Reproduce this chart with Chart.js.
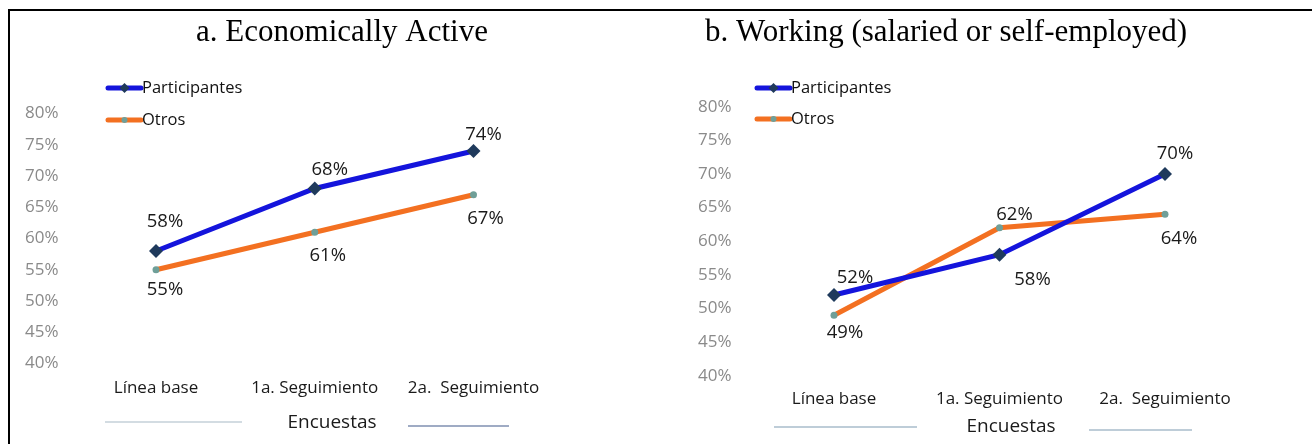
<!DOCTYPE html>
<html>
<head>
<meta charset="utf-8">
<title>Encuestas</title>
<script src="https://cdn.jsdelivr.net/npm/chart.js@4.4.1/dist/chart.umd.min.js"></script>
<style>
html,body{margin:0;padding:0;background:#fff;}
#page{position:relative;width:1312px;height:444px;overflow:hidden;background:#fff;}
#frame{position:absolute;left:8px;top:9px;right:0;bottom:0;border-top:2px solid #000;border-left:2px solid #000;}
canvas{position:absolute;top:0;}
#chartA{left:0;}
#chartB{left:656px;}
</style>
</head>
<body>
<div id="page">
<canvas id="chartA" width="656" height="444"></canvas>
<canvas id="chartB" width="656" height="444"></canvas>
<div id="frame"></div>
</div>
<script>
// ===========================================
// DATA
// ===========================================

const surveys = ["Línea base", "1a. Seguimiento", "2a.  Seguimiento"];

// a. Economically Active
const activeParticipantes = [58, 68, 74];
const activeOtros = [55, 61, 67];

// b. Working (salaried or self-employed)
const workingParticipantes = [52, 58, 70];
const workingOtros = [49, 62, 64];

const seriesNames = ["Participantes", "Otros"];

const Y_MIN = 40;
const Y_MAX = 80;
const Y_STEP = 5;

// ===========================================
// STYLE
// ===========================================

const SANS = '"Open Sans", "Noto Sans", sans-serif';
const SERIF = '"Liberation Serif", "DejaVu Serif", serif';

const BLUE = "#1414dc";
const ORANGE = "#f37021";
const NAVY = "#1f3a5c";
const TEAL = "#6f9f98";

// ===========================================
// TITLE, LEGEND, VALUE LABELS, AXIS TITLE
// ===========================================

const panelDecor = {
    id: "panelDecor",
    afterDatasetsDraw(chart, args, opts) {
        const ctx = chart.ctx;
        ctx.save();

        // Title
        ctx.fillStyle = "#000";
        ctx.font = "31px " + SERIF;
        ctx.textAlign = "center";
        ctx.textBaseline = "middle";
        ctx.fillText(opts.title, opts.titleX, opts.titleY);

        // Legend: line with marker in the middle
        chart.data.datasets.forEach((ds, i) => {
            const y = opts.legendY[i];
            const x0 = opts.legendX;
            const x1 = x0 + 33;

            ctx.strokeStyle = ds.borderColor;
            ctx.lineWidth = 5;
            ctx.lineCap = "round";
            ctx.beginPath();
            ctx.moveTo(x0, y);
            ctx.lineTo(x1, y);
            ctx.stroke();

            const cx = (x0 + x1) / 2;
            ctx.fillStyle = ds.pointBackgroundColor;
            ctx.beginPath();
            if (ds.pointStyle === "rectRot") {
                ctx.moveTo(cx - 5, y);
                ctx.lineTo(cx, y - 5);
                ctx.lineTo(cx + 5, y);
                ctx.lineTo(cx, y + 5);
                ctx.closePath();
            } else {
                ctx.arc(cx, y, 3, 0, Math.PI * 2);
            }
            ctx.fill();

            ctx.fillStyle = "#111";
            ctx.font = "16.5px " + SANS;
            ctx.textAlign = "left";
            ctx.fillText(ds.label, x1 + 1, y);
        });

        // Value labels next to each point
        ctx.font = "18.5px " + SANS;
        ctx.fillStyle = "#1a1a1a";
        ctx.textAlign = "center";
        chart.data.datasets.forEach((ds, i) => {
            const meta = chart.getDatasetMeta(i);
            meta.data.forEach((pt, j) => {
                const off = opts.labelOffsets[i][j];
                ctx.fillText(ds.data[j] + "%", pt.x + off[0], pt.y + off[1]);
            });
        });

        // Axis title with rules on both sides
        ctx.font = "19px " + SANS;
        ctx.fillStyle = "#1a1a1a";
        ctx.fillText("Encuestas", opts.axisTitleX, opts.axisTitleY);

        opts.rules.forEach(r => {
            ctx.strokeStyle = r.color;
            ctx.lineWidth = 1.5;
            ctx.lineCap = "butt";
            ctx.beginPath();
            ctx.moveTo(r.x0, r.y);
            ctx.lineTo(r.x1, r.y);
            ctx.stroke();
        });

        ctx.restore();
    }
};

// ===========================================
// CHART BUILDER
// ===========================================

function makePanel(canvasId, participantes, otros, box, decor) {

    return new Chart(document.getElementById(canvasId), {

        type: "line",

        data: {
            labels: surveys,
            datasets: [
                {
                    label: seriesNames[0],
                    data: participantes,
                    borderColor: BLUE,
                    borderWidth: 5,
                    pointStyle: "rectRot",
                    pointRadius: 7,
                    pointBackgroundColor: NAVY,
                    pointBorderColor: NAVY,
                    pointBorderWidth: 0,
                    tension: 0,
                    clip: false
                },
                {
                    label: seriesNames[1],
                    data: otros,
                    borderColor: ORANGE,
                    borderWidth: 5,
                    pointStyle: "circle",
                    pointRadius: 3.5,
                    pointBackgroundColor: TEAL,
                    pointBorderColor: TEAL,
                    pointBorderWidth: 0,
                    tension: 0,
                    clip: false
                }
            ]
        },

        options: {
            responsive: false,
            animation: false,
            layout: {
                padding: { left: box.labelLeft, top: box.top, right: box.right, bottom: 0 }
            },
            plugins: {
                legend: { display: false },
                title: { display: false },
                tooltip: { enabled: false },
                panelDecor: decor
            },
            scales: {
                x: {
                    type: "category",
                    offset: false,
                    grid: { display: false, drawTicks: false, tickLength: 0 },
                    border: { display: false },
                    ticks: {
                        color: "#1a1a1a",
                        font: { family: SANS, size: 17 },
                        padding: box.xPad,
                        maxRotation: 0,
                        autoSkip: false
                    },
                    afterFit: s => { s.height = box.xHeight; }
                },
                y: {
                    min: Y_MIN,
                    max: Y_MAX,
                    grid: { display: false, drawTicks: false, tickLength: 0 },
                    border: { display: false },
                    ticks: {
                        stepSize: Y_STEP,
                        color: "#8a8a8a",
                        font: { family: SANS, size: 17 },
                        padding: 0,
                        crossAlign: "far",
                        callback: v => v + "%"
                    },
                    // labels sit at the far left, points start further in
                    afterFit: s => { s.width = box.left - box.labelLeft; }
                }
            }
        },

        plugins: [panelDecor]
    });
}

// ===========================================
// a. ECONOMICALLY ACTIVE
// ===========================================

makePanel("chartA", activeParticipantes, activeOtros,
    { labelLeft: 25, left: 156, right: 182.5, top: 113.5, xHeight: 80.5, xPad: 14 },
    {
        title: "a. Economically Active",
        titleX: 342, titleY: 33,
        legendX: 108, legendY: [88, 120],
        labelOffsets: [
            [[9, -29], [15, -19], [10, -16]],
            [[9, 20], [13, 23], [12, 24]]
        ],
        axisTitleX: 332, axisTitleY: 423,
        rules: [
            { x0: 105, x1: 242, y: 422, color: "#c5d0d8" },
            { x0: 408, x1: 509, y: 426, color: "#7f8fb0" }
        ]
    });

// ===========================================
// b. WORKING (SALARIED OR SELF-EMPLOYED)
// ===========================================

makePanel("chartB", workingParticipantes, workingOtros,
    { labelLeft: 42, left: 178, right: 147, top: 106.7, xHeight: 68.3, xPad: 13 },
    {
        title: "b. Working (salaried or self-employed)",
        titleX: 290, titleY: 33,
        legendX: 101, legendY: [88, 119],
        labelOffsets: [
            [[21, -17], [33, 25], [10, -20]],
            [[11, 18], [15, -13], [14, 24]]
        ],
        axisTitleX: 355, axisTitleY: 427,
        rules: [
            { x0: 118, x1: 261, y: 427, color: "#a8bccb" },
            { x0: 433, x1: 536, y: 430, color: "#a8bccb" }
        ]
    });
</script>
</body>
</html>
